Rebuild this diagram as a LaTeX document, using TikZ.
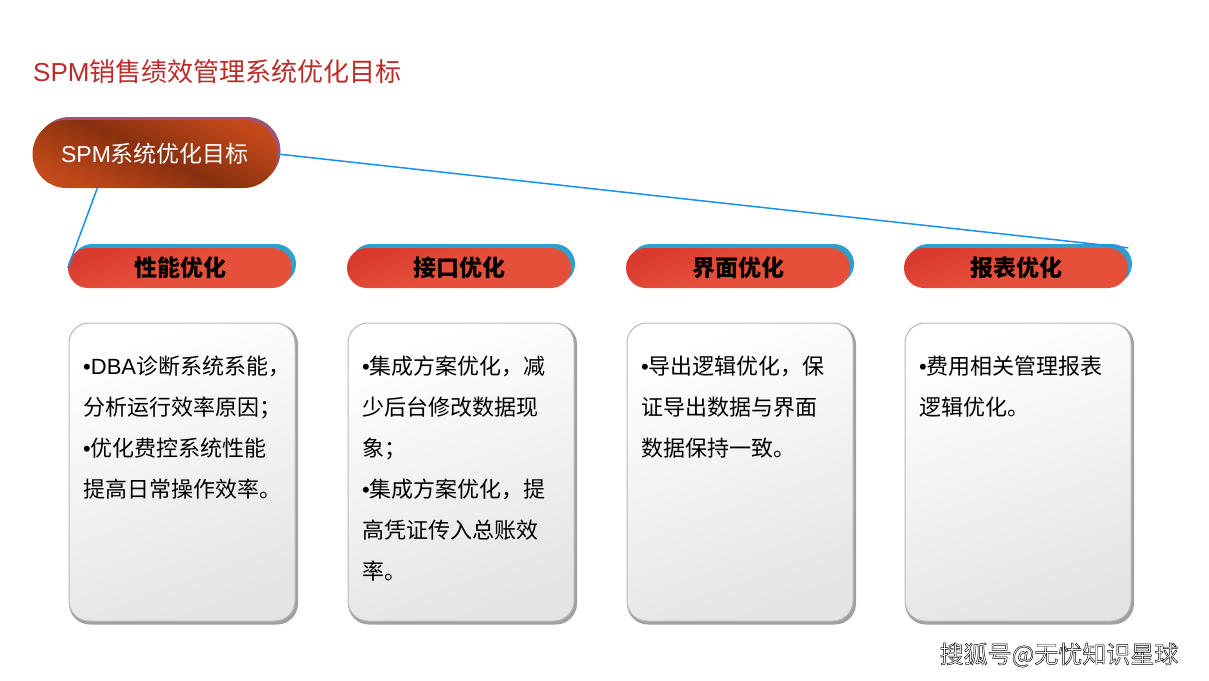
\documentclass[tikz,border=0pt]{standalone}
\usepackage{fontspec}
\setmainfont{Noto Sans CJK SC}
\newfontfamily\lat{Liberation Sans}
\usetikzlibrary{calc}
\definecolor{titlered}{HTML}{BE2A2A}
\definecolor{rootlight}{HTML}{C4491A}
\definecolor{rootdark}{HTML}{88300F}
\definecolor{rootshadow}{HTML}{A05472}
\definecolor{pillred}{HTML}{E5503A}
\definecolor{pilldark}{HTML}{D9392E}
\definecolor{pillshadow}{HTML}{2F9FCB}
\definecolor{linkblue}{HTML}{1A8FF0}
\definecolor{cardedge}{HTML}{A0A0A0}
\definecolor{cardlow}{HTML}{E4E4E4}
\newcommand{\bul}{{\lat •}}
\newcommand{\outlined}[1]{\special{pdf:literal 2 Tr 0.45 w 0 0 0 RG}#1\special{pdf:literal 0 Tr}}
\tikzset{
  rootbox/.style={rectangle, rounded corners=34pt, minimum width=245pt, minimum height=68pt,
    top color=rootlight, bottom color=rootlight, middle color=rootdark, shading angle=-25,
    text=white, font=\fontsize{23}{26}\selectfont, inner sep=0pt},
  rootshade/.style={rectangle, rounded corners=34pt, minimum width=245pt, minimum height=68pt, fill=rootshadow},
  pillbox/.style={rectangle, rounded corners=20pt, minimum width=224pt, minimum height=40pt,
    left color=pilldark, right color=pillred, middle color=pillred, shading angle=20,
    font=\fontsize{23}{26}\selectfont\bfseries, text=black, inner sep=0pt},
  pillshade/.style={rectangle, rounded corners=20pt, minimum width=224pt, minimum height=40pt, fill=pillshadow},
  cardbox/.style={rectangle, rounded corners=20pt, minimum width=226pt, minimum height=298pt,
    top color=white, bottom color=cardlow, shading angle=20, draw=gray!55, line width=1pt},
  cardshade/.style={rectangle, rounded corners=21pt, minimum width=229pt, minimum height=301pt, fill=cardedge},
  cardtext/.style={anchor=north west, align=left, inner sep=0pt, font=\fontsize{22}{41}\selectfont, text=black},
  link/.style={draw=linkblue, line width=1.5pt},
  wm/.style={font=\fontsize{24}{26}\selectfont, anchor=center}
}
\begin{document}
\begin{tikzpicture}[x=1pt,y=-1pt]
\useasboundingbox (0,0) rectangle (1209,680);
\fill[white] (0,0) rectangle (1209,680);
% title
\node[anchor=west, text=titlered, font=\fontsize{26}{28}\selectfont, inner sep=0pt] (title) at (33,72) {{\lat SPM}销售绩效管理系统优化目标};
% root
\node[rootshade] (rootsh) at (158,151) {};
\node[rootbox] (root) at (155,154) {{\lat SPM}系统优化目标};
% pills
\foreach \i/\x/\t in {1/180/性能优化, 2/459/接口优化, 3/738/界面优化, 4/1016/报表优化}{
  \node[pillshade] (s\i) at (\x+4,264) {};
  \node[pillbox] (p\i) at (\x,268) {\t};
}
% cards
\foreach \i/\x in {1/182, 2/461, 3/740, 4/1018}{
  \node[cardshade] (cs\i) at (\x+1.5,474) {};
  \node[cardbox] (c\i) at (\x,472) {};
}
\node[cardtext] (t1) at (83,356) {\bul{\lat DBA}诊断系统系能，\\分析运行效率原因；\\\bul 优化费控系统性能\\提高日常操作效率。};
\node[cardtext] (t2) at (362,356) {\bul 集成方案优化，减\\少后台修改数据现\\象；\\\bul 集成方案优化，提\\高凭证传入总账效\\率。};
\node[cardtext] (t3) at (641,356) {\bul 导出逻辑优化，保\\证导出数据与界面\\数据保持一致。};
\node[cardtext] (t4) at (919,356) {\bul 费用相关管理报表\\逻辑优化。};
% connectors
\draw[link] ([xshift=65pt]root.south west) -- (p1.west);
\draw[link] (root.east) -- (p4.north east);
% watermark
\node[wm, text=white] (wm) at (1059,655) {\outlined{搜狐号@无忧知识星球}};
\end{tikzpicture}
\end{document}
